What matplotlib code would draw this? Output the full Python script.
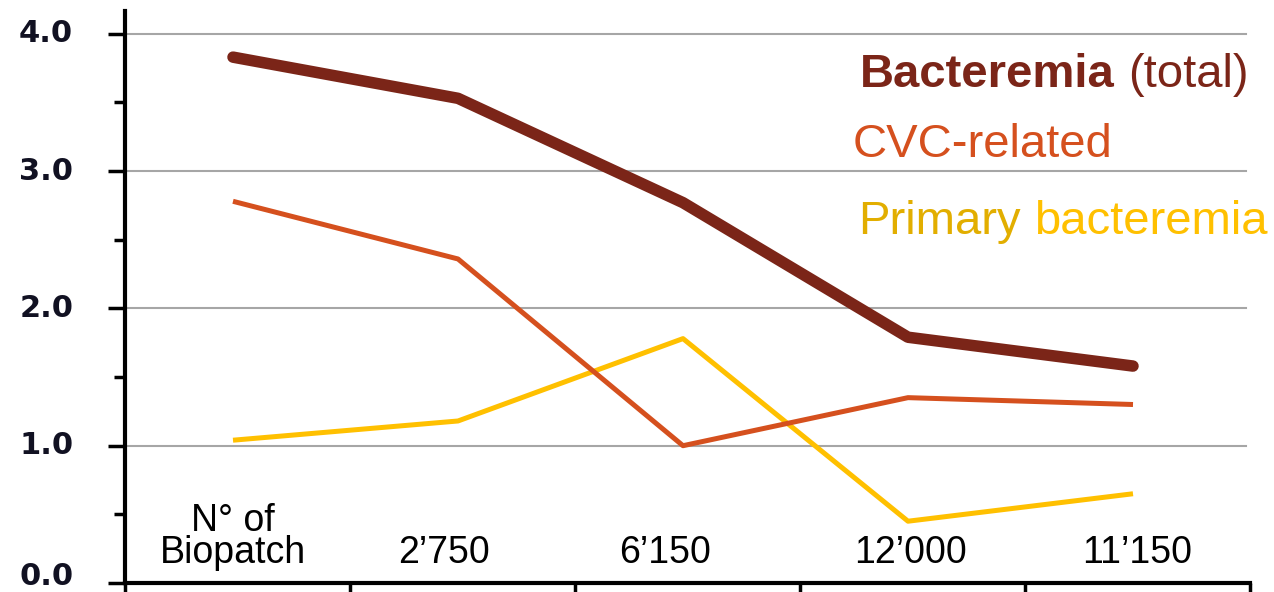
import matplotlib
matplotlib.use("Agg")
import matplotlib.pyplot as plt
import numpy as np
from matplotlib.ticker import MultipleLocator

categories = ["N° of\nBiopatch", "2’750", "6’150", "12’000", "11’150"]
bacteremia_total = [3.83, 3.53, 2.77, 1.79, 1.58]
cvc_related = [2.78, 2.36, 1.00, 1.35, 1.30]
primary_bacteremia = [1.04, 1.18, 1.78, 0.45, 0.65]
y_ticks = [0.0, 1.0, 2.0, 3.0, 4.0]

W, H = 1274, 592
fig = plt.figure(figsize=(W / 100, H / 100), dpi=100)
left, right = 125 / W, 1250 / W
bottom = (H - 583) / H
top = (H - 11) / H
ax = fig.add_axes([left, bottom, right - left, top - bottom])

x = np.arange(len(categories)) + 0.48
ax.plot(x, primary_bacteremia, color="#FFC000", lw=3.6, solid_capstyle="butt", zorder=3)
ax.plot(x, cvc_related, color="#D5501E", lw=3.6, solid_capstyle="butt", zorder=4)
ax.plot(x, bacteremia_total, color="#7B2518", lw=8.3, solid_capstyle="round",
        solid_joinstyle="round", zorder=5)

ax.set_xlim(0, len(categories))
ax.set_ylim(0, 4.166)

# gridlines
for yv in y_ticks[1:]:
    ax.plot([0, 4.98], [yv, yv], color="#a6a6a6", lw=1.5, zorder=1)

ax.yaxis.set_major_locator(MultipleLocator(1.0))
ax.yaxis.set_minor_locator(MultipleLocator(0.5))
ax.set_yticklabels([])
ax.set_xticks(np.arange(len(categories) + 1))
ax.set_xticklabels([])
ax.tick_params(axis="y", which="major", length=12, width=2.5, direction="out", color="black")
ax.tick_params(axis="y", which="minor", length=8, width=2.5, direction="out", color="black")
ax.tick_params(axis="x", which="major", length=12, width=2.5, direction="out", color="black")

for yv in y_ticks:
    ax.text(-0.23, max(yv, 0.045), f"{yv:.1f}", ha="right", va="center", fontsize=22,
            fontweight="bold", family="DejaVu Sans", color="#111122",
            clip_on=False)

for s in ["top", "right"]:
    ax.spines[s].set_visible(False)
for s in ["left", "bottom"]:
    ax.spines[s].set_linewidth(3)
    ax.spines[s].set_color("black")

label_shift = [-0.0, -0.06, -0.08, 0.01, 0.02]
for i, lab in enumerate(categories):
    ax.text(i + 0.48 + label_shift[i], 0.085, lab, ha="center", va="bottom", fontsize=27,
            family="Liberation Sans", color="black", linespacing=0.88)

# legend-like labels
fs = 34
inv = ax.transData.inverted()
t1 = ax.text(3.267, 3.70, "Bacteremia", fontsize=fs, fontweight="bold",
             family="Liberation Sans", color="#7B2518", va="center", ha="left")
fig.canvas.draw()
bb = t1.get_window_extent()
xe = inv.transform((bb.x1, bb.y0))[0]
ax.text(xe + 0.06, 3.70, "(total)", fontsize=fs, family="Liberation Sans",
        color="#7B2518", va="center", ha="left", clip_on=False)
ax.text(3.236, 3.19, "CVC-related", fontsize=fs, family="Liberation Sans",
        color="#D5501E", va="center", ha="left")
t3 = ax.text(3.258, 2.63, "Primary", fontsize=fs, family="Liberation Sans",
             color="#E2AE00", va="center", ha="left")
fig.canvas.draw()
bb = t3.get_window_extent()
xe = inv.transform((bb.x1, bb.y0))[0]
ax.text(xe + 0.06, 2.63, "bacteremia", fontsize=fs, family="Liberation Sans",
        color="#FFC000", va="center", ha="left", clip_on=False)

fig.savefig("out.png", dpi=100)
